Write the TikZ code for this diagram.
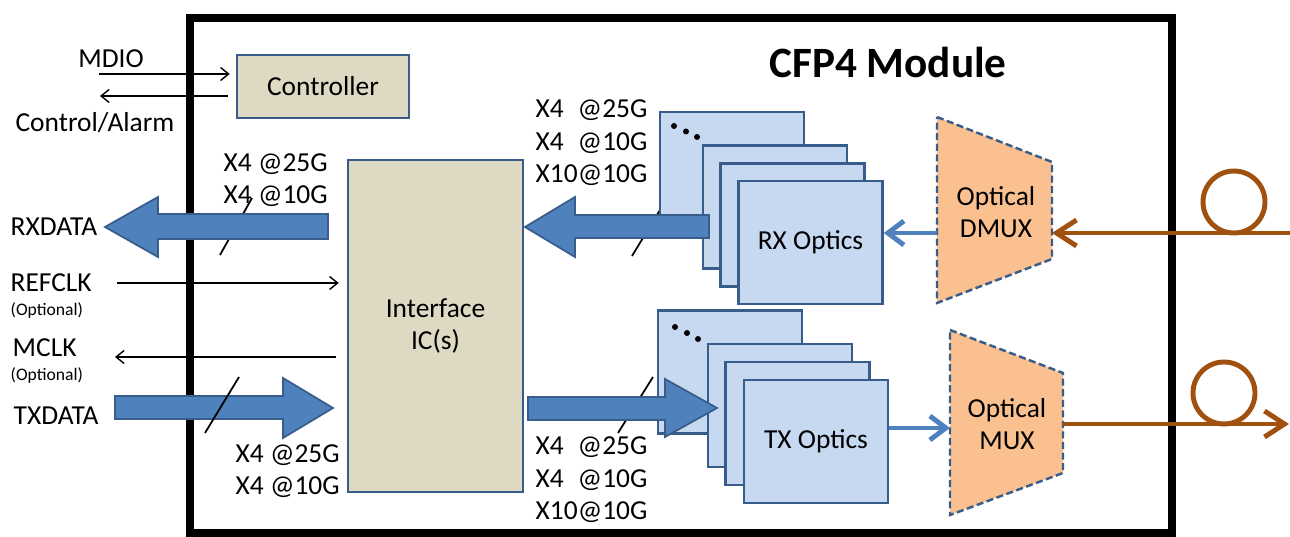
\documentclass[tikz,border=0pt]{standalone}
\usepackage{fontspec}
\setmainfont{Carlito}
\usetikzlibrary{arrows.meta}

\definecolor{tanfill}{RGB}{221,217,195}
\definecolor{edgeblue}{RGB}{56,93,138}
\definecolor{optfill}{RGB}{198,217,241}
\definecolor{arrowfill}{RGB}{79,129,189}
\definecolor{muxfill}{RGB}{250,192,144}
\definecolor{fiberbrown}{RGB}{160,80,15}

\begin{document}
\begin{tikzpicture}[x=0.01cm,y=-0.01cm,
    every node/.style={font=\fontsize{7.8}{9.2}\selectfont, inner sep=0pt},
    block/.style={draw=edgeblue, line width=0.7pt, fill=tanfill},
    optbox/.style={draw=edgeblue, line width=0.7pt, fill=optfill, minimum width=1.44cm, minimum height=1.23cm},
    fatarrow/.style={fill=arrowfill, draw=edgeblue, line width=0.5pt},
    thinarrow/.style={line width=0.4pt, -{Straight Barb[length=0.8mm,width=1.3mm]}},
    bluearrow/.style={draw=arrowfill, line width=1.4pt, -{Straight Barb[length=1.6mm,width=2.4mm]}},
    fiber/.style={draw=fiberbrown, line width=1.4pt},
    fibertip/.style={-{Straight Barb[length=2mm,width=2.6mm]}},
    muxshape/.style={fill=muxfill, draw=edgeblue, line width=0.7pt, dash pattern=on 2pt off 1pt},
    slash/.style={line width=0.5pt}]
  \fill[white] (0,0) rectangle (1290,537);
  \useasboundingbox (0,0) rectangle (1290,537);

  % module frame
  \draw[line width=2.3pt] (190,18) rectangle (1172,533);
  \node (title) at (888,62) {\fontsize{12.3}{14}\selectfont\bfseries CFP4 Module};

  % controller and interface
  \node[block, minimum width=1.72cm, minimum height=0.63cm] (ctrl) at (323,86.5) {Controller};
  \node[block, align=center, minimum width=1.75cm, minimum height=3.32cm] (ic) at (435.5,326) {Interface\\IC(s)};

  \coordinate (mdioin) at (99,74);
  \coordinate (alarmout) at (100,96);
  \coordinate (refclkin) at (117,283);
  \coordinate (mclkout) at (115,357);
  \node (mdio) at (111,59) {MDIO};
  \node (alarm) at (95,123) {Control/Alarm};
  \draw[thinarrow] (mdioin) -- ([xshift=-0.06cm]ctrl.west |- mdioin);
  \draw[thinarrow] ([xshift=-0.08cm]ctrl.west |- alarmout) -- (alarmout);
  \draw[thinarrow] (refclkin) -- ([xshift=-0.08cm]ic.west |- refclkin);
  \draw[thinarrow] ([xshift=-0.11cm]ic.west |- mclkout) -- (mclkout);

  % slashes under the arrows
  \draw[slash] (252,198) -- (220,255);
  \draw[slash] (660,210) -- (632,256);
  \draw[slash] (653,377) -- (618,433);

  % optics stacks
  \node[optbox] (rxback) at (732,173.5) {};
  \node[optbox] (rxmid2) at (775,207) {};
  \node[optbox] (rxmid1) at (792.5,225) {};
  \node[optbox] (rxopt) at (810.5,242.5) {RX Optics};
  \fill (674,126) circle [radius=3] (686,131.5) circle [radius=3] (697,137) circle [radius=3];

  \node[optbox] (txback) at (730,372) {};
  \node[optbox] (txmid2) at (780,405.5) {};
  \node[optbox] (txmid1) at (797.5,423.5) {};
  \node[optbox] (txopt) at (816,441.5) {TX Optics};
  \fill (675,327) circle [radius=3] (687,333) circle [radius=3] (698,339) circle [radius=3];

  % lane arrows
  \filldraw[fatarrow] (105,227) -- (158,197) -- (158,214) -- (328,214) -- (328,239) -- (158,239) -- (158,257) -- cycle;
  \filldraw[fatarrow] (115,396) -- (283,396) -- (283,378) -- (333,408) -- (283,438) -- (283,419) -- (115,419) -- cycle;
  \filldraw[fatarrow] (525,227) -- (575,197) -- (575,215) -- (709,215) -- (709,238) -- (575,238) -- (575,257) -- cycle;
  \filldraw[fatarrow] (528,397) -- (665,397) -- (665,379) -- (717,408) -- (665,437) -- (665,420) -- (528,420) -- cycle;
  \draw[slash] (239,377) -- (205,433);

  % labels
  \node[anchor=west] (rxdata) at (10,227) {RXDATA};
  \node[anchor=west] (refclk) at (10,283) {REFCLK};
  \node[anchor=west, font=\fontsize{5}{6}\selectfont] (refopt) at (10,310) {(Optional)};
  \node[anchor=west] (mclk) at (12,348) {MCLK};
  \node[anchor=west, font=\fontsize{5}{6}\selectfont] (mclkopt) at (10,375) {(Optional)};
  \node[anchor=west] (txdata) at (13,416) {TXDATA};

  \node[align=left, anchor=west] (rxrate) at (223,180) {X4 @25G\\X4 @10G};
  \node[align=left, anchor=west] (txrate) at (235,471) {X4 @25G\\X4 @10G};
  \node[align=left, anchor=west] (rxlanes) at (535,143) {X4\hphantom{0}@25G\\X4\hphantom{0}@10G\\X10@10G};
  \node[align=left, anchor=west] (txlanes) at (535,480) {X4\hphantom{0}@25G\\X4\hphantom{0}@10G\\X10@10G};

  % mux / dmux
  \filldraw[muxshape] (937,117) -- (1052,162) -- (1052,259) -- (937,303) -- cycle;
  \node[align=center] (dmux) at (996,212) {Optical\\DMUX};
  \filldraw[muxshape] (950,330) -- (1063,373) -- (1063,473) -- (950,515) -- cycle;
  \node[align=center] (mux) at (1007,424) {Optical\\MUX};

  \coordinate (dmuxout) at (937,233);
  \coordinate (dmuxin) at (1052,233);
  \coordinate (muxin) at (950,428);
  \coordinate (muxout) at (1063,424);
  \coordinate (fiberin) at (1290,233);
  \coordinate (fiberout) at (1289,424);

  \draw[bluearrow] (dmuxout) -- (rxopt.east |- dmuxout);
  \draw[bluearrow] (txopt.east |- muxin) -- (muxin);

  % fibers
  \draw[fiber, fibertip] (fiberin) -- (dmuxin);
  \draw[fiber] (1234,202) circle [radius=31];
  \draw[fiber, fibertip] (muxout) -- (fiberout);
  \draw[fiber] (1224,393) circle [radius=31];
\end{tikzpicture}
\end{document}
